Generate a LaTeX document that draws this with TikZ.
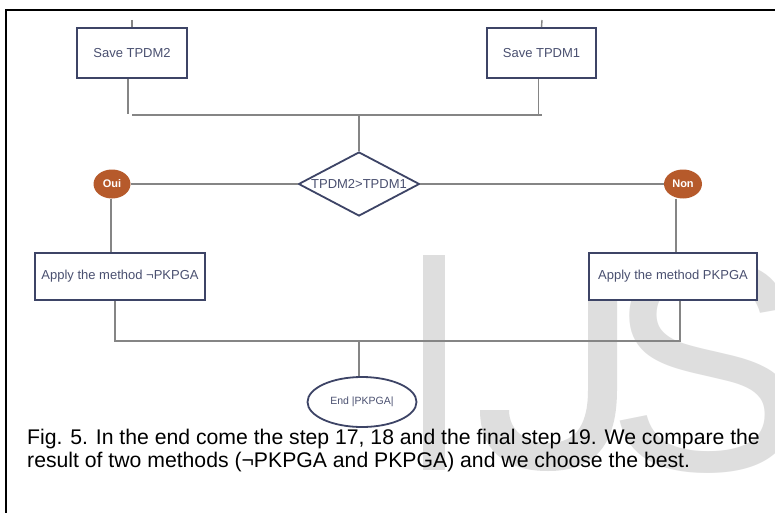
\documentclass[tikz,border=0pt]{standalone}
\usepackage{fontspec}
\setmainfont{Liberation Sans}
\usetikzlibrary{shapes.geometric}
\definecolor{boxline}{HTML}{3D4466}
\definecolor{boxtext}{HTML}{4A5070}
\definecolor{wire}{HTML}{858585}
\definecolor{badge}{HTML}{B65A2B}
\definecolor{wmgray}{HTML}{DEDEDE}
\begin{document}
\begin{tikzpicture}[x=1pt,y=-1pt,
  stepbox/.style={draw=boxline,line width=1.8pt,fill=white,rectangle,inner sep=0pt,
    text=boxtext,font=\fontsize{13}{15}\selectfont},
  test/.style={draw=boxline,line width=1.8pt,fill=white,diamond,aspect=1.9,inner sep=0pt,
    minimum width=121pt,minimum height=64pt,text=boxtext,font=\fontsize{13}{15}\selectfont},
  badgenode/.style={ellipse,fill=badge,inner sep=0pt,minimum width=37pt,minimum height=29pt,
    text=white,font=\bfseries\fontsize{11}{13}\selectfont},
  endnode/.style={ellipse,draw=boxline,line width=1.8pt,fill=white,inner sep=0pt,
    minimum width=109pt,minimum height=50pt,text=boxtext,font=\fontsize{10.5}{12}\selectfont},
  conn/.style={draw=wire,line width=1.4pt},
  captext/.style={anchor=base west,inner sep=0pt,font=\fontsize{21.2}{25}\selectfont}]
\useasboundingbox (0,0) rectangle (775,513);
\fill[white] (0,0) rectangle (775,513);
\begin{scope}
\clip (0,0) rectangle (775,513);
% watermark letters: I and J as filled outlines, S as a glyph
\fill[wmgray] (423,255) rectangle (445,470);
\fill[wmgray] (588,255) -- (617,255) -- (617,390)
  .. controls (617,450) and (590,471) .. (548,471)
  .. controls (505,471) and (480,450) .. (480,410)
  -- (509,410)
  .. controls (509,430) and (525,443) .. (548,443)
  .. controls (572,443) and (588,430) .. (588,390) -- cycle;
\node[anchor=base west,inner sep=0pt,text=wmgray,font=\fontsize{300}{300}\selectfont] (wm) at (606,470) {S};
% page frame
\draw[black,line width=2pt] (6,513) -- (6,10) -- (775,10);
\end{scope}

% nodes
\node[stepbox,minimum width=110pt,minimum height=50pt] (s2) at (132,53) {Save TPDM2};
\node[stepbox,minimum width=109pt,minimum height=50pt] (s1) at (541.5,53) {Save TPDM1};
\coordinate (t2) at (132,20);
\coordinate (t1) at (542,20);
\coordinate (m) at (359,115);
\node[test] (d) at (359,184) {TPDM2>TPDM1};
\node[badgenode] (oui) at (112,184) {Oui};
\node[badgenode,minimum width=38pt] (non) at (683,184) {Non};
\node[stepbox,minimum width=170pt,minimum height=47pt] (a2) at (120,276.5) {Apply the method ¬PKPGA};
\node[stepbox,minimum width=168pt,minimum height=47pt] (a1) at (673,276.5) {Apply the method PKPGA};
\coordinate (m2) at (359,341);
\node[endnode] (e) at (362,402) {End |PKPGA|};

% connectors
\draw[conn] (t2) -- (s2.north);
\draw[conn] (t1) -- (s1.north);
\draw[conn] ([xshift=-4pt]s2.south) -- ([xshift=-4pt]s2.south |- 0,114);
\draw[conn] ([xshift=-3pt]s1.south) -- ([xshift=-3pt]s1.south |- m);
\draw[conn] (s2.south |- m) -- (s1.south |- m);
\draw[conn] (m) -- (d.north);
\draw[conn] (oui) -- (d.west);
\draw[conn] (d.east) -- (non);
\draw[conn] ([xshift=-1pt]oui.south) -- ([xshift=-1pt]oui.south |- a2.north);
\draw[conn] ([xshift=-7pt]non.south) -- ([xshift=-7pt]non.south |- a1.north);
\draw[conn] ([xshift=-5pt]a2.south) -- ([xshift=-5pt]a2.south |- m2) -- ([xshift=7pt]a1.south |- m2) -- ([xshift=7pt]a1.south);
\draw[conn] (m2) -- (m2 |- e.north);

% caption
\node[captext] (cap1) at (27,444) {Fig. 5. In the end come the step 17, 18 and the final step 19. We compare the};
\node[captext] (cap2) at (27,467) {result of two methods (¬PKPGA and PKPGA) and we choose the best.};
\end{tikzpicture}
\end{document}
